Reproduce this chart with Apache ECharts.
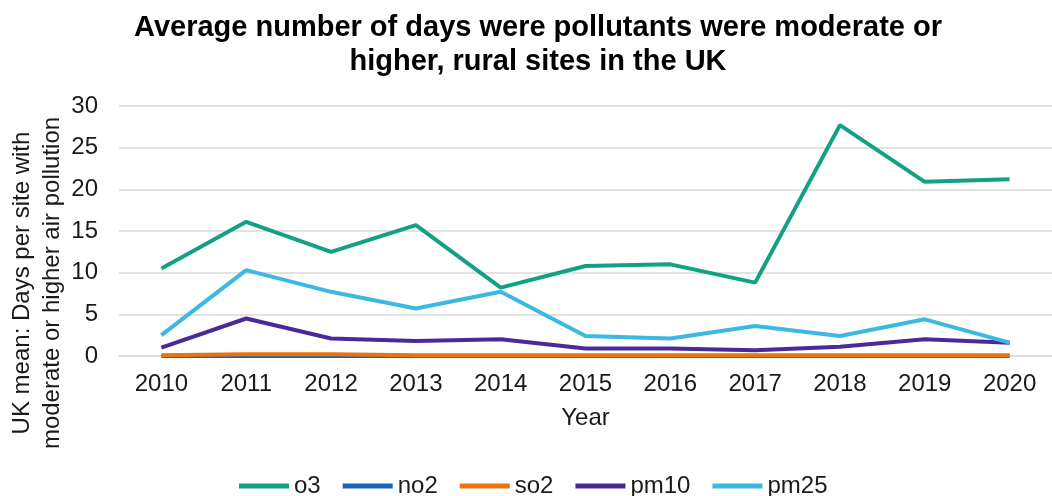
<!DOCTYPE html>
<html>
<head>
<meta charset="utf-8">
<script src="https://cdn.jsdelivr.net/npm/echarts@6/dist/echarts.min.js"></script>
<style>
  html, body { margin: 0; padding: 0; background: #fff; }
  #chart { width: 1052px; height: 496px; }
</style>
</head>
<body>
<div id="chart"></div>
<script>
// ---- data ----
var years = ['2010', '2011', '2012', '2013', '2014', '2015', '2016', '2017', '2018', '2019', '2020'];
var o3   = [10.5, 16.1, 12.5, 15.7, 8.2, 10.8, 11.0, 8.8, 27.7, 20.9, 21.2];
var no2  = [0, 0, 0, 0, 0, 0, 0, 0, 0, 0, 0];
var so2  = [0.1, 0.2, 0.2, 0.1, 0.1, 0.1, 0.1, 0.1, 0.1, 0.1, 0.1];
var pm10 = [1.0, 4.5, 2.1, 1.8, 2.0, 0.9, 0.9, 0.7, 1.1, 2.0, 1.6];
var pm25 = [2.5, 10.3, 7.7, 5.7, 7.7, 2.4, 2.1, 3.6, 2.4, 4.4, 1.6];

var FONT = '"Liberation Sans", Arial, sans-serif';
var TXT = '#1a1a1a';

function line(name, data, color) {
  return {
    name: name, type: 'line', data: data, symbol: 'none',
    lineStyle: { color: color, width: 4 },
    itemStyle: { color: color },
  };
}

var chart = echarts.init(document.getElementById('chart'));
chart.setOption({
  backgroundColor: '#fff',
  animation: false,
  title: {
    text: 'Average number of days were pollutants were moderate or\nhigher, rural sites in the UK',
    left: 533, top: 6, textAlign: 'center',
    textStyle: { fontFamily: FONT, fontSize: 29, fontWeight: 'bold', color: '#000', lineHeight: 34 },
  },
  grid: { left: 119, right: -11, top: 106, bottom: 140 },
  legend: {
    bottom: -7, left: 234,
    icon: 'rect', itemWidth: 50, itemHeight: 5, itemGap: 22,
    textStyle: { fontFamily: FONT, fontSize: 24, color: TXT },
    data: ['o3', 'no2', 'so2', 'pm10', 'pm25'],
  },
  xAxis: {
    type: 'category', data: years, boundaryGap: true,
    name: 'Year', nameLocation: 'middle', nameGap: 50,
    nameTextStyle: { fontFamily: FONT, fontSize: 24, color: TXT },
    axisLine: { lineStyle: { color: '#d9d9d9', width: 1.5 } },
    axisTick: { show: false },
    axisLabel: { fontFamily: FONT, fontSize: 24, color: TXT, margin: 16 },
  },
  yAxis: {
    type: 'value', min: 0, max: 30, interval: 5,
    axisLine: { show: false },
    axisTick: { show: false },
    axisLabel: { fontFamily: FONT, fontSize: 24, color: TXT, margin: 21 },
    splitLine: { lineStyle: { color: '#d9d9d9', width: 1.5 } },
  },
  graphic: [{
    type: 'text', x: 37, y: 283, rotation: Math.PI / 2,
    style: {
      text: 'UK mean: Days per site with\nmoderate or higher air pollution',
      font: '24px ' + FONT, fill: TXT, align: 'center', verticalAlign: 'middle', lineHeight: 30,
    },
  }],
  series: [
    line('o3', o3, '#13a184'),
    line('no2', no2, '#1866b9'),
    line('so2', so2, '#ea720f'),
    line('pm10', pm10, '#4a2a9b'),
    line('pm25', pm25, '#3cb8e3'),
  ],
});
</script>
</body>
</html>
